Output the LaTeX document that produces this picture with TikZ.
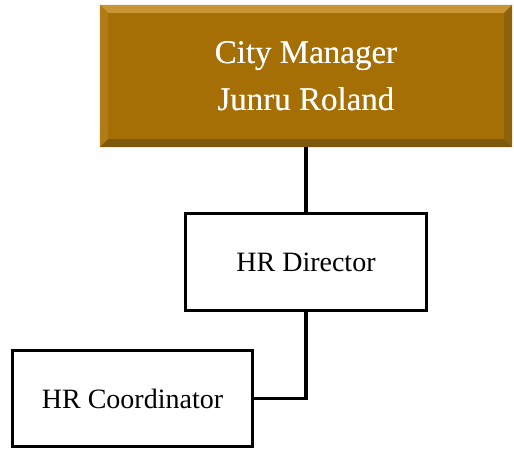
\documentclass[tikz,border=0pt]{standalone}
\usepackage{fontspec}
\setmainfont{Liberation Serif}
\definecolor{gold}{HTML}{A56F05}
\definecolor{goldlight}{HTML}{C99434}
\definecolor{goldmid}{HTML}{B07C16}
\definecolor{golddark}{HTML}{7E580C}
\definecolor{goldshade}{HTML}{8E6209}
\tikzset{
  plainbox/.style={draw=black, line width=3.5pt, fill=white, rectangle, inner sep=0pt,
    font=\fontsize{28}{34}\selectfont},
  topbox/.style={rectangle, fill=gold, inner sep=0pt, text=white, align=center,
    font=\fontsize{33}{47}\selectfont},
  link/.style={draw=black, line width=3.5pt}
}
\begin{document}
\begin{tikzpicture}[x=1pt,y=-1pt]
\useasboundingbox (0,0) rectangle (514,449);
% top box
\node[topbox, minimum width=412pt, minimum height=142pt] (cm) at (306,76) {City Manager\\Junru Roland};
% bevels
\fill[goldlight] (cm.north west) -- (cm.north east) -- ([xshift=-8pt,yshift=-8pt]cm.north east) -- ([xshift=8pt,yshift=-8pt]cm.north west) -- cycle;
\fill[goldmid] (cm.north west) -- ([xshift=8pt,yshift=-8pt]cm.north west) -- ([xshift=8pt,yshift=8pt]cm.south west) -- (cm.south west) -- cycle;
\fill[golddark] (cm.south west) -- ([xshift=8pt,yshift=8pt]cm.south west) -- ([xshift=-8pt,yshift=8pt]cm.south east) -- (cm.south east) -- cycle;
\fill[goldshade] (cm.north east) -- ([xshift=-8pt,yshift=-8pt]cm.north east) -- ([xshift=-8pt,yshift=8pt]cm.south east) -- (cm.south east) -- cycle;
\node[topbox, fill=none] at (cm.center) {City Manager\\Junru Roland};
% other boxes
\node[plainbox, minimum width=241pt, minimum height=97pt] (hrd) at (306,262) {HR Director};
\node[plainbox, minimum width=240pt, minimum height=96pt] (hrc) at (132.5,398.5) {HR Coordinator};
% connectors
\draw[link] (cm.south) -- (hrd.north);
\draw[link] (hrd.south) |- (hrc.east);
\end{tikzpicture}
\end{document}
